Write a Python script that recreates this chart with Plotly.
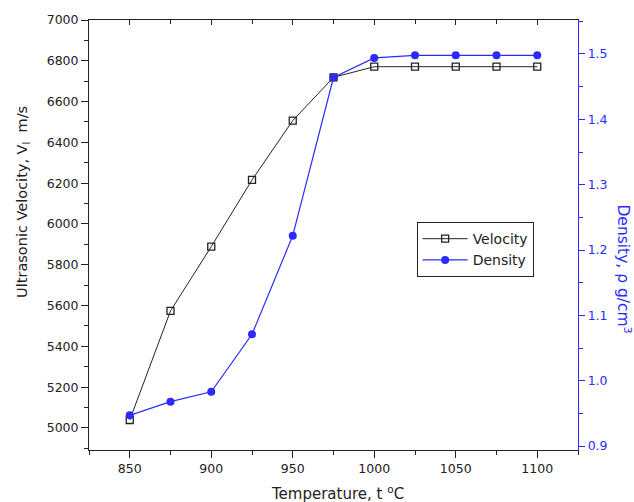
import plotly.graph_objects as go

temperature = [850, 875, 900, 925, 950, 975, 1000, 1025, 1050, 1075, 1100]
velocity = [5039, 5574, 5889, 6216, 6507, 6719, 6771, 6771, 6771, 6771, 6771]
density = [0.947, 0.968, 0.983, 1.071, 1.222, 1.464, 1.494, 1.498, 1.498, 1.498, 1.498]

x_ticks = [850, 900, 950, 1000, 1050, 1100]
v_ticks = list(range(5000, 7001, 200))
d_ticks = [0.9, 1.0, 1.1, 1.2, 1.3, 1.4, 1.5]
d_tick_labels = ["0.9", "1.0", "1.1", "1.2", "1.3", "1.4", "1.5"]

BLUE = "#2b2bff"
INK = "#222222"
FONT = "DejaVu Sans, Liberation Sans, Arial, sans-serif"

fig = go.Figure()
fig.add_trace(go.Scatter(
    x=temperature, y=velocity, name="Velocity", mode="lines+markers",
    line=dict(color=INK, width=1),
    marker=dict(symbol="square-open", size=7, color=INK, line=dict(width=1.3)),
))
fig.add_trace(go.Scatter(
    x=temperature, y=density, name="Density", mode="lines+markers", yaxis="y2",
    line=dict(color=BLUE, width=1.2),
    marker=dict(symbol="circle", size=8, color=BLUE),
))
# invisible trace to anchor the top axis
fig.add_trace(go.Scatter(x=[temperature[0]], y=[velocity[0]], xaxis="x2", mode="markers",
                         marker=dict(opacity=0, size=1), showlegend=False, hoverinfo="skip"))

fig.update_layout(
    width=634, height=502,
    margin=dict(l=89, r=56, t=20, b=52),
    paper_bgcolor="white", plot_bgcolor="white",
    font=dict(family=FONT, size=12, color=INK),
    showlegend=True,
    legend=dict(x=0.67, y=0.53, xanchor="left", yanchor="top",
                bordercolor=INK, borderwidth=1, bgcolor="white", itemwidth=45,
                font=dict(size=14, family=FONT), tracegroupgap=0),
    xaxis=dict(range=[825, 1125], tickvals=x_ticks, ticks="outside", ticklen=7,
               tickwidth=1, tickcolor=INK, showline=True, linecolor=INK,
               linewidth=1, showgrid=False, zeroline=False,
               tickfont=dict(size=12.5),
               minor=dict(dtick=25, tick0=825, ticks="outside", ticklen=4,
                          tickcolor=INK, showgrid=False)),
    xaxis2=dict(range=[825, 1125], overlaying="x", side="top", tickvals=x_ticks,
                ticks="inside", ticklen=5, tickcolor=INK, showline=True,
                linecolor=INK, linewidth=1, showgrid=False, zeroline=False,
                showticklabels=False,
                minor=dict(dtick=25, tick0=825, ticks="inside", ticklen=4,
                           tickcolor=INK, showgrid=False)),
    yaxis=dict(range=[4892, 7000], tickvals=v_ticks, ticks="outside", ticklen=7,
               tickcolor=INK, showline=True, linecolor=INK, linewidth=1,
               showgrid=False, zeroline=False, tickfont=dict(size=12.5),
               minor=dict(dtick=100, tick0=5000, ticks="outside", ticklen=4,
                          tickcolor=INK, showgrid=False)),
    yaxis2=dict(range=[0.894, 1.552], overlaying="y", side="right", tickvals=d_ticks,
                ticktext=d_tick_labels, ticks="outside", ticklen=6, tickcolor=BLUE,
                showline=True, linecolor=BLUE, linewidth=1.3, showgrid=False,
                zeroline=False, tickfont=dict(size=12.5, color=BLUE),
                minor=dict(dtick=0.05, tick0=0.9, ticks="outside", ticklen=4,
                           tickcolor=BLUE, showgrid=False)),
    annotations=[
        dict(text="Ultrasonic Velocity, V<sub>l</sub>  m/s", xref="paper", yref="paper",
             x=-0.135, y=0.577, xanchor="center", yanchor="middle", textangle=-90,
             showarrow=False, font=dict(size=14.5, family=FONT, color=INK)),
        dict(text="Density, ρ g/cm<sup>3</sup>", xref="paper", yref="paper",
             x=1.094, y=0.42, xanchor="center", yanchor="middle", textangle=90,
             showarrow=False, font=dict(size=15.5, family=FONT, color=BLUE)),
        dict(text="Temperature, t <sup>o</sup>C", xref="paper", yref="paper",
             x=0.508, y=-0.1, xanchor="center", yanchor="middle",
             showarrow=False, font=dict(size=15, family=FONT, color=INK)),
    ],
)

fig.write_html("out.html", config={"displayModeBar": False},
               post_script="document.body.style.margin='0';")
